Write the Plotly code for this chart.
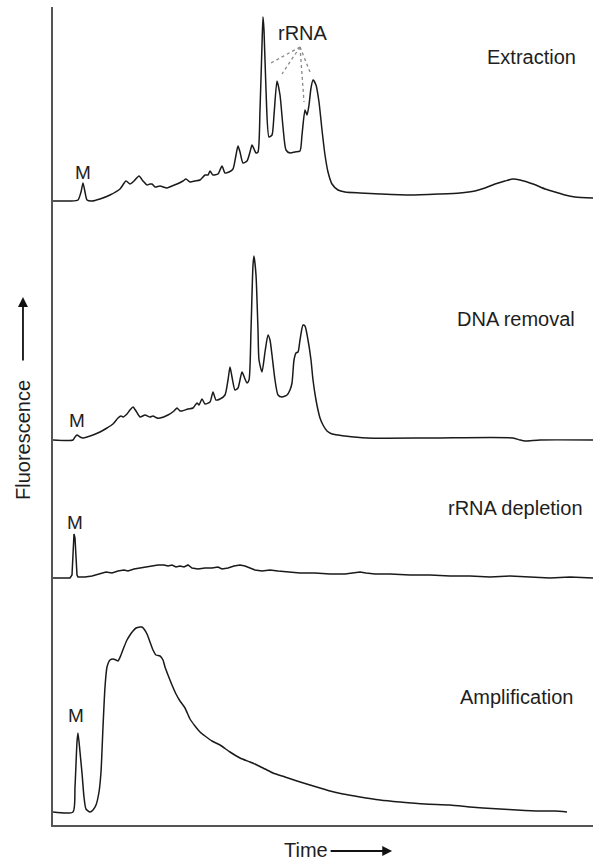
import plotly.graph_objects as go

# ---- data (time in arbitrary units, fluorescence heights above each trace's own baseline) ----
extraction_time = [0, 17, 25, 28, 30, 32, 34, 39, 47, 57, 67, 73, 77, 81, 86, 90, 94, 97, 99, 102, 107, 114, 119, 124, 130,
                   133, 137, 142, 147, 152, 155, 157, 160, 165, 169, 172, 176, 180, 183, 185, 187, 190, 194, 197, 199,
                   201, 203, 205, 207, 209, 210, 211, 213, 216, 219, 221, 224, 227, 230, 233, 237, 242, 247, 249, 252,
                   254, 256, 258, 260, 263, 266, 269, 272, 275, 279, 285, 292, 307, 327, 357, 387, 407, 422, 432, 442,
                   452, 460, 467, 480, 492, 502, 512, 522, 540]
extraction_fl = [0, 0, 1, 9, 18, 9, 1, 0, 2, 6, 12, 20, 17, 20, 25, 20, 16, 17, 17, 14, 15, 13, 15, 17, 20,
                 22, 19, 20, 21, 26, 26, 30, 26, 27, 35, 28, 29, 32, 46, 55, 49, 38, 40, 49, 56,
                 52, 48, 49, 91, 156, 184, 171, 111, 64, 66, 86, 120, 106, 74, 51, 48, 49, 50, 66, 91,
                 86, 96, 113, 121, 116, 99, 71, 46, 29, 17, 11, 9, 8, 7, 6, 7, 8, 10, 13, 17,
                 20, 22, 21, 17, 12, 9, 6, 4, 3]

dna_time = [0, 20, 22, 24, 27, 30, 40, 47, 54, 60, 65, 68, 70, 74, 77, 80, 83, 87, 92, 97, 100, 104, 107, 115, 121,
            124, 127, 129, 135, 140, 144, 146, 149, 152, 157, 160, 163, 167, 172, 175, 177, 179, 182, 185, 189, 192,
            194, 196, 198, 200, 201, 203, 205, 206, 209, 212, 215, 217, 219, 222, 225, 229, 234, 237, 239, 241, 243,
            245, 247, 250, 252, 255, 258, 260, 263, 265, 267, 270, 274, 279, 292, 314, 380, 460, 467, 472, 487, 540]
dna_fl = [0, 0, 3, 5, 3, 2, 5, 8, 12, 16, 22, 24, 23, 26, 30, 33, 29, 23, 25, 23, 24, 22, 22, 25, 29,
          32, 29, 29, 31, 32, 37, 35, 41, 36, 38, 48, 40, 41, 45, 60, 73, 63, 50, 52, 68, 61,
          57, 60, 110, 175, 184, 165, 110, 80, 68, 88, 105, 100, 85, 60, 45, 43, 45, 50, 57, 80,
          87, 88, 100, 115, 114, 100, 80, 60, 40, 30, 22, 15, 9, 6, 4, 2, 2, 2, 0, -1, 0, 0]

depletion_time = [0, 13, 17, 19, 20, 21, 22, 23, 24, 25, 32, 39, 47, 53, 59, 65, 71, 75, 81, 87, 93, 99, 105, 111, 115,
                  119, 123, 127, 131, 135, 139, 145, 152, 159, 165, 169, 175, 181, 187, 192, 197, 202, 209, 217, 225,
                  237, 247, 262, 277, 292, 302, 307, 313, 322, 337, 357, 377, 397, 417, 437, 457, 477, 497, 517, 540]
depletion_fl = [0, 0, 0, 3, 22, 44, 40, 18, 3, 1, 1, 2, 4, 6, 5, 7, 8, 7, 9, 10, 11, 12, 13, 13, 12,
                13, 11, 12, 11, 13, 10, 9, 10, 10, 11, 9, 10, 12, 13, 12, 10, 8, 7, 8, 7,
                6, 5, 5, 4, 4, 5, 6, 5, 4, 4, 3, 3, 2, 2, 1, 2, 1, 0, 1, 0]

amplification_time = [0, 20, 22, 24, 25, 27, 29, 31, 33, 37, 40, 43, 46, 48, 50, 52, 54, 57, 60, 63, 65, 68, 71, 74, 77,
                      80, 83, 87, 89, 91, 94, 97, 100, 103, 107, 110, 112, 115, 119, 123, 127, 132, 137, 142, 147, 152,
                      159, 167, 177, 187, 197, 204, 212, 220, 232, 244, 257, 267, 277, 290, 307, 327, 347, 372, 397,
                      417, 430, 447, 464, 487, 502, 514]
amplification_fl = [0, 0, 25, 70, 79, 60, 39, 15, 3, 0, 2, 7, 20, 40, 85, 125, 145, 152, 153, 152, 151, 157, 165, 172, 177,
                    181, 184, 185, 185, 183, 178, 170, 162, 157, 156, 152, 145, 137, 127, 118, 111, 104, 93, 86, 80, 76,
                    71, 67, 60, 54, 50, 47, 43, 39, 35, 31, 27, 24, 21, 18, 15, 12, 10, 8, 7,
                    5, 4, 3, 2, 1, 1, 0]

trace_names = ["Extraction", "DNA removal", "rRNA depletion", "Amplification"]
rrna_label = "rRNA"
marker_label = "M"

# ---- layout constants (positions / styles) ----
baselines = [624, 385, 247, 13]
label_pos = [(525, 768), (524, 506), (532, 317), (522, 128)]
m_pos = [(30, 653), (24, 405), (22, 303), (23, 110)]
rrna_text_pos = (250, 792)
rrna_origin = (247, 778)
rrna_targets = [(218, 762), (229, 751), (251, 723), (257, 753)]

FONT = "Liberation Sans, Arial, Helvetica, sans-serif"
FS = 20
LINE = "#1a1a1a"
TXT = "#1e1e1e"

series = [
    (extraction_time, extraction_fl, "spline"),
    (dna_time, dna_fl, "spline"),
    (depletion_time, depletion_fl, "linear"),
    (amplification_time, amplification_fl, "spline"),
]

fig = go.Figure()
for (t, f, shape), base, name in zip(series, baselines, trace_names):
    fig.add_trace(go.Scatter(
        x=t, y=[base + v for v in f], mode="lines", name=name,
        line=dict(color=LINE, width=1.5, shape=shape, smoothing=0.6 if shape == "spline" else None),
        hoverinfo="skip", showlegend=False,
    ))

annotations = []
for name, (x, y) in zip(trace_names, label_pos):
    annotations.append(dict(x=x, y=y, xref="x", yref="y", text=name, showarrow=False,
                            xanchor="right", yanchor="middle", font=dict(family=FONT, size=FS, color=TXT)))
for (x, y) in m_pos:
    annotations.append(dict(x=x, y=y, xref="x", yref="y", text=marker_label, showarrow=False,
                            xanchor="center", yanchor="middle", font=dict(family=FONT, size=FS - 1, color=TXT)))
annotations.append(dict(x=rrna_text_pos[0], y=rrna_text_pos[1], xref="x", yref="y", text=rrna_label,
                        showarrow=False, xanchor="center", yanchor="middle",
                        font=dict(family=FONT, size=FS, color=TXT)))

# axis titles with arrows
annotations.append(dict(x=0.4685, y=-0.031, xref="paper", yref="paper", text="Time", showarrow=False,
                        xanchor="center", yanchor="middle", font=dict(family=FONT, size=FS, color=TXT)))
annotations.append(dict(x=0.628, y=-0.0318, xref="paper", yref="paper", text="", showarrow=True,
                        ax=-63, ay=0, axref="pixel", ayref="pixel", arrowhead=2, arrowsize=1.1,
                        arrowwidth=1.8, arrowcolor="#111"))
annotations.append(dict(x=-0.0556, y=0.4707, xref="paper", yref="paper", text="Fluorescence", showarrow=False,
                        textangle=-90, xanchor="center", yanchor="middle",
                        font=dict(family=FONT, size=FS, color=TXT)))
annotations.append(dict(x=-0.0556, y=0.6455, xref="paper", yref="paper", text="", showarrow=True,
                        ax=0, ay=65, axref="pixel", ayref="pixel", arrowhead=2, arrowsize=1.1,
                        arrowwidth=1.8, arrowcolor="#111"))

shapes = []
for (x1, y1) in rrna_targets:
    shapes.append(dict(type="line", xref="x", yref="y", x0=rrna_origin[0], y0=rrna_origin[1], x1=x1, y1=y1,
                       line=dict(color="#888", width=1.3, dash="dot")))

fig.update_layout(
    width=593, height=860,
    margin=dict(l=53, r=0, t=7, b=35),
    paper_bgcolor="white", plot_bgcolor="white",
    xaxis=dict(range=[0, 540], showgrid=False, zeroline=False, showticklabels=False, ticks="",
               showline=True, linecolor="#555", linewidth=1.5, fixedrange=True),
    yaxis=dict(range=[0, 818], showgrid=False, zeroline=False, showticklabels=False, ticks="",
               showline=True, linecolor="#555", linewidth=1.5, fixedrange=True),
    annotations=annotations,
    shapes=shapes,
    showlegend=False,
)

fig.write_html("out.html")
